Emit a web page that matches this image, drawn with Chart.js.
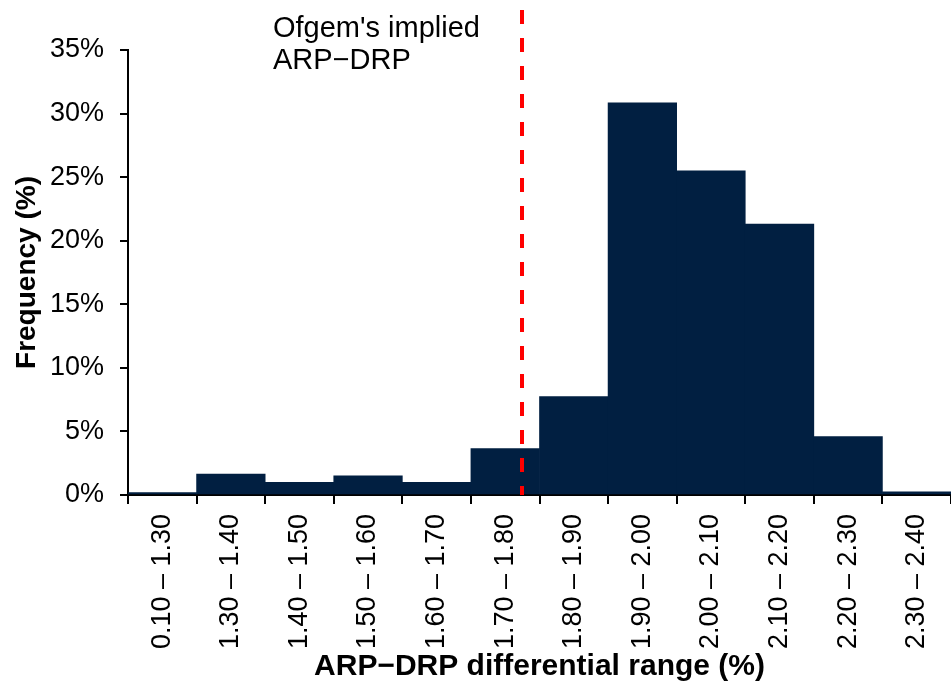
<!DOCTYPE html>
<html>
<head>
<meta charset="utf-8">
<title>ARP-DRP differential distribution</title>
<script src="https://cdn.jsdelivr.net/npm/chart.js@4/dist/chart.umd.min.js"></script>
<style>
  html, body { margin: 0; padding: 0; background: #ffffff; }
  canvas { display: block; }
</style>
</head>
<body>
<canvas id="histChart" width="951" height="700"></canvas>
<script>
'use strict';

// Bins of the ARP-DRP differential (%) and share of outcomes in each bin (%)
const BIN_LABELS = [
  '0.10 – 1.30', '1.30 – 1.40', '1.40 – 1.50', '1.50 – 1.60', '1.60 – 1.70', '1.70 – 1.80',
  '1.80 – 1.90', '1.90 – 2.00', '2.00 – 2.10', '2.10 – 2.20', '2.20 – 2.30', '2.30 – 2.40'
];
const BIN_LOWER = [0.10, 1.30, 1.40, 1.50, 1.60, 1.70, 1.80, 1.90, 2.00, 2.10, 2.20, 2.30];
const BIN_UPPER = [1.30, 1.40, 1.50, 1.60, 1.70, 1.80, 1.90, 2.00, 2.10, 2.20, 2.30, 2.40];
const FREQUENCY = [0.2, 1.65, 1.0, 1.5, 1.0, 3.65, 7.75, 30.85, 25.5, 21.3, 4.6, 0.25];
const Y_TICKS = [0, 5, 10, 15, 20, 25, 30, 35];

// Ofgem's implied differential (%) and its caption
const OFGEM_DIFFERENTIAL = 1.774;
const OFGEM_CAPTION = ["Ofgem's implied", 'ARP−DRP'];

const BAR_COLOR = '#011f41';
const FONT = 'Arial, "Liberation Sans", sans-serif';

// position of a differential value on the category axis (index units)
function binPosition(value) {
  const i = BIN_LOWER.findIndex((lo, k) => value >= lo && value < BIN_UPPER[k]);
  if (i < 0) return NaN;
  return i - 0.5 + (value - BIN_LOWER[i]) / (BIN_UPPER[i] - BIN_LOWER[i]);
}

const ofgemLine = {
  id: 'ofgemLine',
  afterDatasetsDraw(chart) {
    const { ctx, scales: { x, y } } = chart;
    const px = Math.round(x.getPixelForValue(binPosition(OFGEM_DIFFERENTIAL)));
    ctx.save();
    ctx.strokeStyle = '#ff0000';
    ctx.lineWidth = 4;
    ctx.setLineDash([14, 14]);
    ctx.beginPath();
    ctx.moveTo(px, 10);
    ctx.lineTo(px, y.getPixelForValue(0));
    ctx.stroke();
    ctx.setLineDash([]);
    ctx.fillStyle = '#000000';
    ctx.font = '29px ' + FONT;
    ctx.textAlign = 'left';
    ctx.textBaseline = 'alphabetic';
    OFGEM_CAPTION.forEach((line, i) => ctx.fillText(line, 273, 37 + i * 32));
    ctx.restore();
  }
};

new Chart(document.getElementById('histChart'), {
  type: 'bar',
  data: {
    labels: BIN_LABELS,
    datasets: [{
      data: FREQUENCY,
      backgroundColor: BAR_COLOR,
      borderWidth: 0,
      barPercentage: 1,
      categoryPercentage: 1
    }]
  },
  options: {
    responsive: false,
    animation: false,
    layout: { padding: { top: 50, right: 0, bottom: 0, left: 0 } },
    plugins: { legend: { display: false }, tooltip: { enabled: false } },
    scales: {
      x: {
        offset: true,
        afterFit: scale => {
          scale.height = 205;
          scale.paddingLeft = 0;
          scale.paddingRight = 0;
        },
        grid: { offset: true, drawOnChartArea: false, color: '#000000', tickLength: 9, lineWidth: 2 },
        border: { color: '#000000', width: 2 },
        ticks: {
          color: '#000000',
          minRotation: 90,
          maxRotation: 90,
          autoSkip: false,
          padding: 10,
          font: { family: FONT, size: 27 }
        },
        title: {
          display: true,
          text: 'ARP−DRP differential range (%)',
          color: '#000000',
          padding: { top: 0, bottom: 15 },
          font: { family: FONT, size: 30, weight: 'bold' }
        }
      },
      y: {
        min: 0,
        max: 35,
        afterFit: scale => { scale.width = 128; },
        afterBuildTicks: scale => { scale.ticks = Y_TICKS.map(v => ({ value: v })); },
        grid: { drawOnChartArea: false, color: '#000000', tickLength: 8, lineWidth: 2 },
        border: { color: '#000000', width: 2 },
        ticks: {
          color: '#000000',
          padding: 16,
          font: { family: FONT, size: 27 },
          callback: value => value + '%'
        },
        title: {
          display: true,
          text: 'Frequency (%)',
          color: '#000000',
          padding: { top: 10, bottom: 0 },
          font: { family: FONT, size: 28, weight: 'bold' }
        }
      }
    }
  },
  plugins: [ofgemLine]
});
</script>
</body>
</html>
